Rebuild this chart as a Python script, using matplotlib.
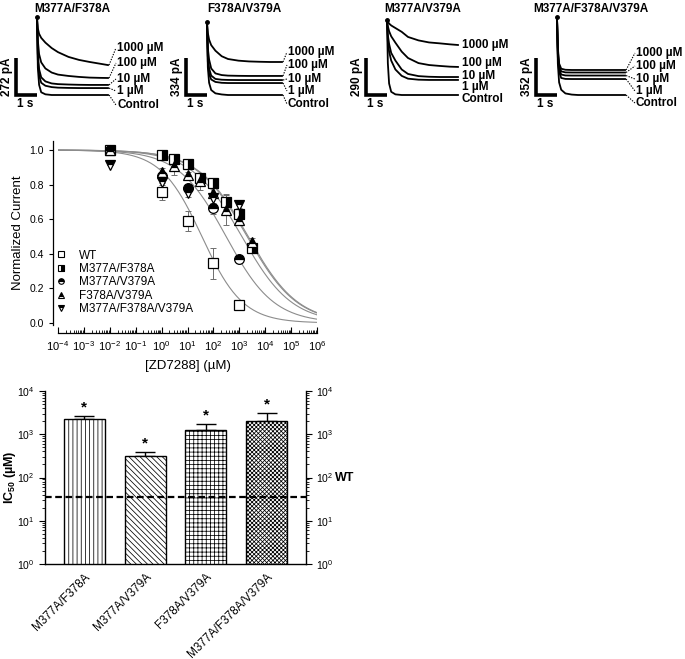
import matplotlib

matplotlib.use("Agg")
import matplotlib.pyplot as plt
import matplotlib.transforms as mtransforms
from matplotlib.lines import Line2D
from matplotlib.ticker import LogLocator, NullFormatter
import numpy as np

plt.rcParams["font.family"] = ["Liberation Sans", "DejaVu Sans"]
plt.rcParams["mathtext.fontset"] = "custom"
plt.rcParams["mathtext.rm"] = "Liberation Sans"
plt.rcParams["mathtext.it"] = "Liberation Sans:italic"
plt.rcParams["mathtext.bf"] = "Liberation Sans:bold"
plt.rcParams["hatch.linewidth"] = 0.55

W, H = 685, 659

# ---------------- current traces (pA above control baseline) ----------------
PANEL_TITLES = ["M377A/F378A", "F378A/V379A", "M377A/V379A", "M377A/F378A/V379A"]
CONC_LABELS = ["1000 µM", "100 µM", "10 µM", "1 µM", "Control"]
SCALE_PA = [272, 334, 290, 352]

TIMES = [
    [0, 0.04, 0.1, 0.2, 0.4, 0.7, 1.0, 1.5, 2.0, 2.5, 3.0, 3.38],
    [0, 0.04, 0.1, 0.2, 0.4, 0.7, 1.0, 1.5, 2.0, 2.5, 3.0, 3.57],
    [0, 0.04, 0.1, 0.2, 0.4, 0.7, 1.0, 1.5, 2.0, 2.5, 3.0, 3.38],
    [0, 0.04, 0.1, 0.2, 0.4, 0.7, 1.0, 1.5, 2.0, 2.5, 3.0, 3.24],
]
TRACES_FA = [
    [573, 490, 450, 420, 385, 345, 315, 280, 258, 243, 230, 220],
    [573, 400, 300, 240, 195, 165, 150, 140, 133, 128, 126, 125],
    [573, 300, 190, 130, 100, 85, 80, 77, 75, 74, 74, 74],
    [573, 260, 145, 90, 68, 58, 54, 52, 51, 51, 51, 51],
    [573, 200, 75, 20, 5, 0, 0, 0, 0, 0, 0, 0],
]
TRACES_FV = [
    [659, 560, 500, 450, 400, 350, 325, 310, 303, 300, 298, 298],
    [659, 420, 320, 240, 195, 180, 175, 173, 172, 172, 172, 172],
    [659, 350, 240, 175, 145, 138, 136, 135, 135, 135, 135, 135],
    [659, 300, 190, 140, 118, 110, 108, 108, 108, 108, 108, 108],
    [659, 250, 110, 45, 15, 5, 0, 0, 0, 0, 0, 0],
]
TRACES_MV = [
    [588, 575, 560, 545, 525, 495, 455, 428, 412, 405, 397, 392],
    [588, 540, 500, 460, 410, 340, 290, 250, 235, 228, 222, 220],
    [588, 470, 400, 330, 270, 200, 165, 148, 143, 141, 141, 141],
    [588, 420, 340, 270, 200, 150, 128, 120, 118, 118, 118, 118],
    [588, 250, 90, 25, 5, 0, 0, 0, 0, 0, 0, 0],
]
TRACES_MFV = [
    [742, 450, 300, 250, 240, 238, 238, 238, 238, 238, 238, 238],
    [742, 420, 280, 225, 215, 214, 214, 214, 214, 214, 214, 214],
    [742, 390, 250, 195, 186, 185, 185, 185, 185, 185, 185, 185],
    [742, 360, 220, 162, 153, 152, 152, 152, 152, 152, 152, 152],
    [742, 300, 120, 50, 15, 4, 0, 0, 0, 0, 0, 0],
]
TRACES = [TRACES_FA, TRACES_FV, TRACES_MV, TRACES_MFV]

# ---------------- dose-response (normalized current) ----------------
SERIES = ["WT", "M377A/F378A", "M377A/V379A", "F378A/V379A", "M377A/F378A/V379A"]
WT_X = [1, 10, 100, 1000]
WT_Y = [0.76, 0.59, 0.345, 0.105]
WT_E = [0.05, 0.06, 0.09, 0.01]
FA_X = [0.01, 1, 3, 10, 30, 100, 300, 1000, 3000]
FA_Y = [1.0, 0.97, 0.95, 0.92, 0.836, 0.81, 0.70, 0.63, 0.432]
FA_E = [0.0, 0.01, 0.015, 0.01, 0.02, 0.015, 0.04, 0.05, 0.02]
MV_X = [0.01, 1, 10, 100, 1000]
MV_Y = [1.0, 0.85, 0.778, 0.663, 0.368]
MV_E = [0.0, 0.02, 0.02, 0.03, 0.02]
FV_X = [0.01, 1, 3, 10, 30, 100, 300, 1000, 3000]
FV_Y = [1.0, 0.875, 0.905, 0.855, 0.82, 0.75, 0.655, 0.595, 0.47]
FV_E = [0.0, 0.02, 0.05, 0.02, 0.05, 0.03, 0.09, 0.03, 0.02]
MFV_X = [0.01, 1, 10, 100, 1000]
MFV_Y = [0.915, 0.817, 0.75, 0.72, 0.685]
MFV_E = [0.0, 0.02, 0.02, 0.03, 0.02]
FIT_IC50 = [36, 2200, 310, 1250, 2000]
FIT_NH = [0.55, 0.45, 0.47, 0.45, 0.45]

# ---------------- IC50 bars ----------------
BAR_LABELS = ["M377A/F378A", "M377A/V379A", "F378A/V379A", "M377A/F378A/V379A"]
IC50_VALUES = [2220, 310, 1250, 1990]
IC50_ERR = [470, 80, 450, 1110]
WT_IC50 = 35.5


def rect_px(x0, y0, x1, y1):
    return [x0 / W, 1 - y1 / H, (x1 - x0) / W, (y1 - y0) / H]


fig = plt.figure(figsize=(W / 100, H / 100), dpi=100)

# ---- trace panels ----
T0_PX = [37, 207, 387, 557]
PX_PER_S = 21
BAR_PX = 37
BASE_PY = 95
LABEL_X_PX = [117, 288, 462, 636]
LABEL_PY = [[48, 63, 79, 91, 105], [52, 65, 79, 91, 104],
            [45, 63, 76, 87, 99], [53, 66, 79, 91, 103]]
LEADERS = [True, True, False, True]
TXT = dict(fontsize=8.5, fontweight="bold", color="black")

for i in range(4):
    t0 = T0_PX[i]
    s = SCALE_PA[i]
    k = s / BAR_PX
    ax = fig.add_axes(rect_px(t0 - 35, 0, t0 + 135, 116))
    ax.set_xlim(-35 / PX_PER_S, 135 / PX_PER_S)
    ax.set_ylim(-(116 - BASE_PY) * k, BASE_PY * k)
    ax.axis("off")

    def val(py):
        return (BASE_PY - py) * k

    def tt(px):
        return (px - t0) / PX_PER_S

    t = TIMES[i]
    for vals in TRACES[i]:
        ax.plot(t, vals, color="black", lw=1.3, clip_on=False)
    ax.plot([t[0]], [TRACES[i][0][0]], "o", color="black", ms=2.5)
    ax.text(t[-1] / 2, val(9), PANEL_TITLES[i], ha="center", va="center", **TXT)
    for j, lab in enumerate(CONC_LABELS):
        ax.text(tt(LABEL_X_PX[i]), val(LABEL_PY[i][j]), lab, ha="left", va="center",
                clip_on=False, **TXT)
        if LEADERS[i]:
            ax.plot([t[-1] + 0.05, tt(LABEL_X_PX[i]) - 0.05],
                    [TRACES[i][j][-1], val(LABEL_PY[i][j])],
                    ls=(0, (1.2, 1.2)), lw=0.8, color="black")
    # scale bar
    ax.plot([-1.0, -1.0, -0.02], [s, 0, 0], color="black", lw=2.6,
            solid_joinstyle="miter", solid_capstyle="butt")
    ax.text(-1.45, s / 2, f"{s} pA", rotation=90, ha="center", va="center", **TXT)
    ax.text(-0.55, val(104), "1 s", ha="center", va="center", **TXT)

# ---- dose-response ----
ax2 = fig.add_axes(rect_px(58, 141.4, 317, 324.7))
ax2.set_xscale("log")
ax2.set_xlim(1e-4, 1e6)
ax2.set_ylim(-0.01, 1.05)
for side in ("top", "right"):
    ax2.spines[side].set_visible(False)
ax2.spines["left"].set_position(("outward", 3.6))
ax2.spines["bottom"].set_position(("outward", 6.2))
ax2.set_xticks([10.0 ** e for e in range(-4, 7)])
ax2.xaxis.set_minor_locator(LogLocator(base=10, subs=np.arange(2, 10), numticks=100))
ax2.xaxis.set_minor_formatter(NullFormatter())
ax2.set_yticks([0.0, 0.2, 0.4, 0.6, 0.8, 1.0])
ax2.set_yticklabels([f"{v:.1f}" for v in [0.0, 0.2, 0.4, 0.6, 0.8, 1.0]])
ax2.tick_params(axis="x", which="major", direction="in", length=4, width=0.8,
                labelsize=8, pad=4)
ax2.tick_params(axis="x", which="minor", direction="in", length=2.5, width=0.6)
ax2.tick_params(axis="y", direction="out", length=3, width=0.8, labelsize=7.5)
for sp in ("left", "bottom"):
    ax2.spines[sp].set_linewidth(0.9)
ax2.set_xlabel("[ZD7288] (µM)", fontsize=9.5, labelpad=5)
ax2.set_ylabel("Normalized Current", fontsize=9.5, labelpad=4)

xc = np.logspace(-4, 6, 300)
for ic, nh in zip(FIT_IC50, FIT_NH):
    ax2.plot(xc, 1 / (1 + (xc / ic) ** nh), color="#8c8c8c", lw=0.8, zorder=1)

MARKERS = [
    dict(marker="s", mfc="white", mec="black", fillstyle="full"),
    dict(marker="s", mfc="black", mfcalt="white", mec="black", fillstyle="right"),
    dict(marker="o", mfc="black", mfcalt="white", mec="black", fillstyle="top"),
    dict(marker="^", mfc="black", mfcalt="white", mec="black", fillstyle="top"),
    dict(marker="v", mfc="black", mfcalt="white", mec="black", fillstyle="top"),
]
DATA = [(WT_X, WT_Y, WT_E), (FA_X, FA_Y, FA_E), (MV_X, MV_Y, MV_E),
        (FV_X, FV_Y, FV_E), (MFV_X, MFV_Y, MFV_E)]
order = [4, 2, 3, 1, 0]
for idx in order:
    x, y, e = DATA[idx]
    ax2.errorbar(x, y, yerr=e, fmt="none", ecolor="#6e6e6e", elinewidth=0.7,
                 capsize=2, capthick=0.7, zorder=2)
    ax2.plot(x, y, ls="none", ms=7, mew=0.9, zorder=3 + idx, **MARKERS[idx])

handles = [Line2D([], [], ls="none", ms=4, mew=0.8, **m) for m in MARKERS]
ax2.legend(handles, SERIES, loc="upper left", bbox_to_anchor=(-0.01, 0.41),
           frameon=False, fontsize=8.5, handlelength=1.0, handletextpad=1.0,
           labelspacing=0.12, borderpad=0, borderaxespad=0)

# ---- IC50 bars ----
ax3 = fig.add_axes(rect_px(45, 391, 306, 564))
ax3.set_yscale("log")
ax3.set_ylim(1, 1e4)
ax3.set_xlim(-0.65, 3.65)
xb = np.arange(len(BAR_LABELS))
HATCHES = ["||||", "\\\\\\\\\\\\", "++++", "xxxxxxxx"]
bars = ax3.bar(xb, IC50_VALUES, width=0.675, color="white", edgecolor="black",
               linewidth=1.0, zorder=2)
for b, h in zip(bars, HATCHES):
    b.set_hatch(h)
ax3.errorbar(xb, IC50_VALUES, yerr=[[0] * len(xb), IC50_ERR], fmt="none",
             ecolor="black", elinewidth=1.0, capsize=7.5, capthick=1.0, zorder=1)
for xi, v, e in zip(xb, IC50_VALUES, IC50_ERR):
    ax3.annotate("*", xy=(xi, v + e), xytext=(0, 1), textcoords="offset points",
                 ha="center", va="bottom", fontsize=11, fontweight="bold")
ax3.axhline(WT_IC50, color="black", ls=(0, (3, 1.6)), lw=1.6, zorder=3)
ax3.text(1.15, 100, "WT", transform=mtransforms.blended_transform_factory(ax3.transAxes, ax3.transData),
         ha="center", va="center", fontsize=9, fontweight="bold")
ax3.spines["top"].set_visible(False)
for sp in ("left", "right", "bottom"):
    ax3.spines[sp].set_linewidth(1.0)
ax3.set_yticks([1, 10, 100, 1000, 10000])
ax3.yaxis.set_minor_locator(LogLocator(base=10, subs=np.arange(2, 10), numticks=100))
ax3.yaxis.set_minor_formatter(NullFormatter())
ax3.tick_params(axis="y", which="both", left=True, right=True, labelleft=True,
                labelright=True, direction="out", labelsize=7.5)
ax3.tick_params(axis="y", which="major", length=4, width=0.8)
ax3.tick_params(axis="y", which="minor", length=2.5, width=0.6)
ax3.set_xticks(xb)
ax3.set_xticklabels(BAR_LABELS, rotation=45, ha="right", rotation_mode="anchor",
                    fontsize=8.5)
ax3.tick_params(axis="x", length=0, pad=5)
ax3.set_ylabel(r"IC$_{\mathbf{50}}$ (µM)", fontsize=9, fontweight="bold")
ax3.yaxis.set_label_coords(-0.105, 0.5)

fig.savefig("out.png", dpi=100, facecolor="white")
